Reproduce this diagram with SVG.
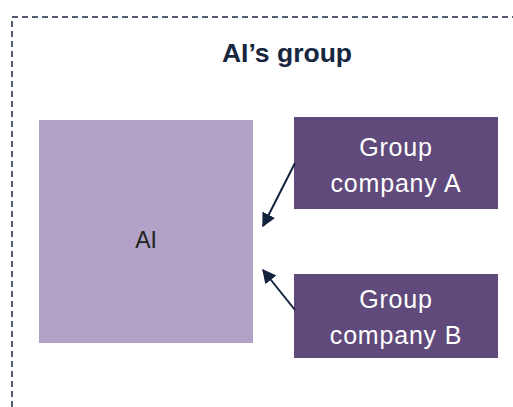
<svg xmlns="http://www.w3.org/2000/svg" width="513" height="407" viewBox="0 0 513 407">
<style>
.t{font-family:"Liberation Sans",Arial,sans-serif;}
.w{fill:#fff;font-size:25px;letter-spacing:0.8px;text-anchor:middle;}
.c{stroke:#13233d;stroke-width:2;fill:none;marker-end:url(#ah);}
</style>
<defs>
<marker id="ah" viewBox="0 0 10 10" refX="9" refY="5" markerWidth="7" markerHeight="7" orient="auto" markerUnits="strokeWidth">
<path d="M0,0 L10,5 L0,10 z" fill="#13233d"/>
</marker>
</defs>
<rect width="513" height="407" fill="#fff"/>
<g id="border">
<path d="M12,407 L12,17 L513,17" fill="none" stroke="#1a2940" stroke-width="1.5" stroke-dasharray="6,4"/>
<text class="t" x="287" y="62" font-size="26.5" font-weight="bold" fill="#17263f" text-anchor="middle">AI’s group</text>
</g>
<g id="ai">
<rect x="39" y="120" width="214" height="223" fill="#b3a2c7"/>
<text class="t" x="146" y="248" font-size="23" fill="#222" text-anchor="middle">AI</text>
</g>
<g id="groupA">
<rect x="294" y="117" width="204" height="92" fill="#604a7b"/>
<text class="t w" x="396" y="156">Group</text>
<text class="t w" x="396" y="192">company A</text>
</g>
<g id="groupB">
<rect x="294" y="274" width="204" height="84" fill="#604a7b"/>
<text class="t w" x="396" y="308">Group</text>
<text class="t w" x="396" y="344">company B</text>
</g>
<g id="connectors">
<line class="c" x1="295" y1="163" x2="263" y2="226"/>
<line class="c" x1="295" y1="310" x2="263" y2="270"/>
</g>
</svg>
